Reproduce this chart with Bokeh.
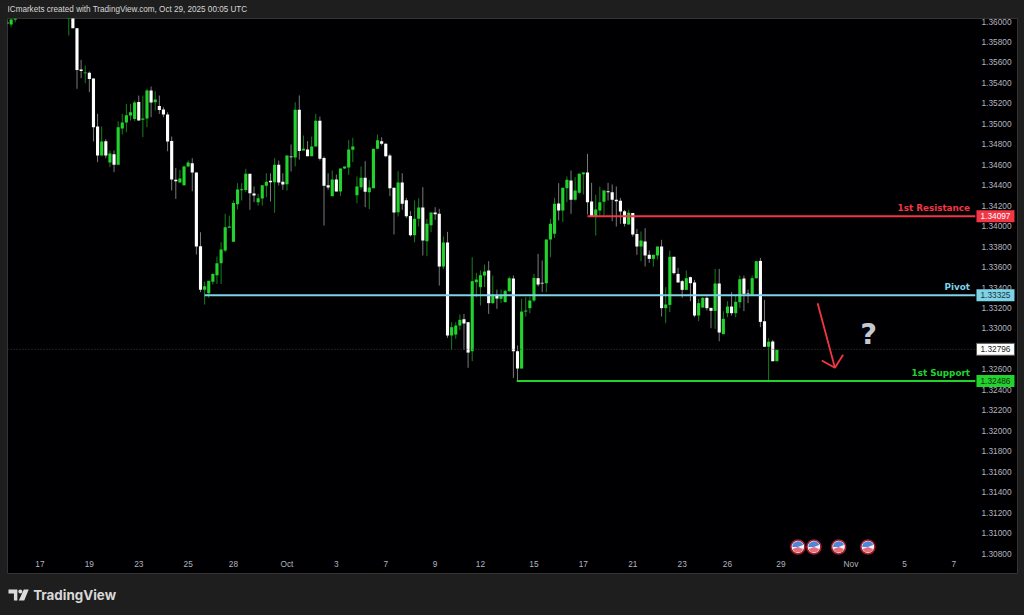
from bokeh.plotting import figure
from bokeh.embed import file_html
from bokeh.layouts import column
from bokeh.resources import INLINE
from bokeh.models import ColumnDataSource, FixedTicker, NumeralTickFormatter
from bokeh.core.properties import value

bar_index = [0, 1, 2] + list(range(15, 188))

opens = [1.35990,1.35970,1.36016,1.36070,1.36120,1.35935,1.35530,1.35495,1.35498,1.35443,1.34973,1.34690,1.34830,1.34621,1.34703,1.34599,1.34954,1.35012,1.35081,1.35048,1.35214,1.35039,1.35052,1.35325,1.35211,1.35175,1.35140,1.35091,1.34833,1.34452,1.34426,1.34400,1.34582,1.34615,1.34524,1.33804,1.33377,1.33344,1.33455,1.33520,1.33637,1.33761,1.33983,1.33846,1.34214,1.34351,1.34354,1.34511,1.34318,1.34234,
1.34270,1.34394,1.34443,1.34429,1.34599,1.34433,1.34410,1.34680,1.34671,1.35137,1.34739,1.34749,1.34684,1.34778,1.35029,1.34667,1.34400,1.34293,1.34456,1.34338,1.34563,1.34573,1.34746,1.34302,1.34381,1.34472,1.34332,1.34371,1.34755,1.34830,1.34804,1.34690,1.34374,1.34136,1.34426,1.34253,1.34100,1.33911,1.34071,1.34182,1.33853,1.34009,1.34133,1.34120,1.33605,1.33840,
1.32931,1.32940,1.33028,1.33090,1.33061,1.32777,1.33452,1.33403,1.33517,1.33566,1.33247,1.33322,1.33289,1.33257,1.33364,1.33488,1.32777,1.32608,1.33165,1.33198,1.33273,1.33491,1.33446,1.33442,1.33869,1.33925,1.34221,1.34153,1.34371,1.34446,1.34257,1.34325,1.34508,1.34524,1.34241,1.34094,1.34153,1.34237,1.34342,1.34332,1.34257,1.34247,1.34146,1.34016,1.34127,1.33924,
1.33800,1.33849,1.33719,1.33680,1.33713,1.33800,1.33198,1.33230,1.33700,1.33533,1.33462,1.33377,1.33501,1.33449,1.33126,1.33204,1.33299,1.33201,1.33172,1.33439,1.32944,1.33149,1.33214,1.33149,1.33256,1.33488,1.33341,1.33328,1.33491,1.33660,1.33071,1.32820,1.32872,1.32680]

highs = [1.36020,1.36040,1.36060,1.36150,1.36140,1.35935,1.35625,1.35570,1.35511,1.35443,1.35097,1.34973,1.34850,1.34739,1.34739,1.35025,1.35097,1.35195,1.35195,1.35227,1.35276,1.35276,1.35342,1.35364,1.35319,1.35276,1.35162,1.35113,1.34876,1.34569,1.34550,1.34592,1.34641,1.34664,1.34524,1.33940,1.33458,1.33465,1.33540,1.33703,1.33843,1.34120,1.34103,1.34250,1.34420,1.34420,1.34560,1.34511,1.34387,1.34315,
1.34400,1.34517,1.34517,1.34664,1.34641,1.34517,1.34690,1.34798,1.35211,1.35277,1.34886,1.34830,1.34876,1.35097,1.35071,1.34680,1.34517,1.34544,1.34504,1.34563,1.34583,1.34843,1.34863,1.34485,1.34583,1.34635,1.34452,1.34755,1.34896,1.34869,1.34810,1.34706,1.34374,1.34537,1.34517,1.34276,1.34146,1.34250,1.34273,1.34381,1.34071,1.34133,1.34185,1.34169,1.33898,1.33944,
1.33061,1.33061,1.33136,1.33142,1.33061,1.33696,1.33543,1.33566,1.33625,1.33657,1.33517,1.33380,1.33380,1.33380,1.33507,1.33517,1.32833,1.33289,1.33305,1.33312,1.33534,1.33729,1.33664,1.33869,1.34071,1.34276,1.34420,1.34374,1.34485,1.34544,1.34479,1.34517,1.34527,1.34706,1.34423,1.34306,1.34387,1.34348,1.34423,1.34407,1.34387,1.34276,1.34159,1.34159,1.34127,1.33973,
1.33947,1.33980,1.33761,1.33719,1.33800,1.33866,1.33403,1.33761,1.33703,1.33592,1.33475,1.33566,1.33507,1.33475,1.33289,1.33305,1.33312,1.33201,1.33582,1.33582,1.33169,1.33266,1.33354,1.33331,1.33517,1.33517,1.33380,1.33517,1.33657,1.33690,1.33279,1.32905,1.32888,1.32791]

lows = [1.35970,1.35944,1.35993,1.35863,1.35935,1.35342,1.35446,1.35397,1.35309,1.34827,1.34625,1.34690,1.34664,1.34576,1.34527,1.34599,1.34895,1.34918,1.35032,1.35025,1.35032,1.34869,1.34967,1.35065,1.35130,1.35097,1.35065,1.34732,1.34348,1.34266,1.34426,1.34397,1.34576,1.34341,1.33722,1.33354,1.33233,1.33299,1.33429,1.33435,1.33435,1.33745,1.33989,1.33846,1.34162,1.34250,1.34331,1.34159,1.34234,1.34201,
1.34201,1.34283,1.34240,1.34130,1.34397,1.34355,1.34348,1.34534,1.34583,1.34651,1.34739,1.34684,1.34684,1.34778,1.34641,1.34006,1.34355,1.34293,1.34338,1.34293,1.34560,1.34501,1.34625,1.34224,1.34355,1.34185,1.34166,1.34371,1.34755,1.34788,1.34674,1.34293,1.33918,1.34094,1.34159,1.34078,1.33898,1.33843,1.33996,1.33713,1.33706,1.33941,1.34061,1.33419,1.33582,1.32908,
1.32791,1.32898,1.32986,1.32791,1.32615,1.32680,1.33305,1.33224,1.33403,1.33142,1.33240,1.33191,1.33247,1.33253,1.33354,1.32517,1.32484,1.32608,1.33116,1.33149,1.33257,1.33410,1.33354,1.33354,1.33696,1.33885,1.34055,1.34039,1.34234,1.34120,1.34250,1.34315,1.34309,1.34113,1.34094,1.33908,1.34104,1.34104,1.34250,1.34048,1.33996,1.34022,1.33996,1.34016,1.33898,1.33719,
1.33657,1.33605,1.33641,1.33605,1.33674,1.33116,1.33051,1.33159,1.33527,1.33449,1.33299,1.33377,1.33266,1.33110,1.33071,1.33201,1.33175,1.33002,1.32996,1.32875,1.32944,1.33110,1.33126,1.33110,1.33201,1.33169,1.33247,1.33328,1.33485,1.33012,1.32820,1.32475,1.32680,1.32680]

closes = [1.35980,1.36019,1.36030,1.36100,1.35935,1.35527,1.35517,1.35501,1.35439,1.34967,1.34690,1.34827,1.34690,1.34710,1.34599,1.34967,1.35012,1.35084,1.35113,1.35208,1.35032,1.35052,1.35325,1.35208,1.35237,1.35136,1.35091,1.34827,1.34455,1.34439,1.34465,1.34582,1.34621,1.34524,1.33800,1.33377,1.33413,1.33465,1.33533,1.33637,1.33771,1.33989,1.33996,1.34227,1.34358,1.34361,1.34511,1.34322,1.34299,1.34273,
1.34400,1.34433,1.34429,1.34599,1.34426,1.34407,1.34690,1.34674,1.35137,1.34733,1.34755,1.34684,1.34778,1.35029,1.34658,1.34394,1.34377,1.34456,1.34338,1.34563,1.34583,1.34749,1.34778,1.34387,1.34472,1.34335,1.34377,1.34755,1.34840,1.34804,1.34684,1.34371,1.34133,1.34426,1.34218,1.34097,1.33911,1.34071,1.34182,1.33859,1.34022,1.34133,1.34117,1.33605,1.33840,1.32931,
1.33012,1.33028,1.33084,1.33048,1.32764,1.33462,1.33478,1.33520,1.33556,1.33247,1.33322,1.33292,1.33322,1.33367,1.33491,1.32777,1.32608,1.33165,1.33175,1.33273,1.33494,1.33429,1.33439,1.33869,1.34022,1.34218,1.34153,1.34374,1.34452,1.34257,1.34348,1.34511,1.34524,1.34234,1.34094,1.34162,1.34234,1.34348,1.34332,1.34257,1.34244,1.34143,1.34022,1.34130,1.33918,1.33801,
1.33859,1.33713,1.33680,1.33719,1.33800,1.33198,1.33234,1.33700,1.33540,1.33449,1.33377,1.33491,1.33442,1.33126,1.33247,1.33299,1.33198,1.33172,1.33439,1.32960,1.33094,1.33214,1.33149,1.33260,1.33481,1.33338,1.33335,1.33491,1.33657,1.33064,1.32820,1.32869,1.32680,1.32791]

n = min(len(bar_index), len(opens), len(highs), len(lows), len(closes))

price_ticks = [round(1.308 + 0.002 * i, 3) for i in range(27)]
time_ticks = [8, 20, 32, 44, 55, 68, 80, 92, 104, 115, 128, 140, 152, 164, 175, 188, 205, 218, 230]
time_labels = ["17", "19", "23", "25", "28", "Oct", "3", "7", "9", "12", "15", "17", "21", "23", "26", "29", "Nov", "5", "7"]

level_names = ["1st Resistance", "Pivot", "1st Support"]
level_prices = [1.34097, 1.33325, 1.32486]
level_starts = [141, 48, 123.8]
level_colors = ["#f23645", "#7fd3e6", "#22d32e"]
level_text_colors = ["#ffffff", "#17333a", "#0a2a0a"]
last_price = 1.32796
event_bars = [192.1, 196.0, 202.0, 209.1]
header_text = "ICmarkets created with TradingView.com, Oct 29, 2025 00:05 UTC"
brand_text = "TradingView"

PAGE = "#1e1e1e"
GREEN = "#22d32e"
WHITE = "#ffffff"
WICK_G = "#14801b"
WICK_W = "#7a7a7a"
AXIS_TEXT = "#b2b5be"
END = 235.2


def strip(height):
    f = figure(width=1024, height=height, x_range=(0, 1024), y_range=(height, 0),
               output_backend="svg", toolbar_location=None, min_border=0,
               background_fill_color=PAGE, border_fill_color=PAGE, outline_line_color=None)
    f.axis.visible = False
    f.grid.visible = False
    return f


head = strip(18)
head.text([0], [9], text=[header_text], text_color="#d6d6d6", text_align="left", text_baseline="middle",
          text_font=value("Liberation Sans"), text_font_size="8.15px")

foot = strip(41)
foot.text([26], [20], text=[brand_text], text_color="#d8d8d8", text_align="left", text_baseline="middle",
          text_font=value("Inter"), text_font_size="13.4px", text_font_style="bold")
foot.patch([1, 10, 10, 6.5, 6.5, 1], [15, 15, 26, 26, 19, 19], fill_color="#dcdcdc", line_color=None)
foot.patch([16.5, 21.5, 17, 11.5], [15, 15, 26, 26], fill_color="#dcdcdc", line_color=None)
foot.scatter([13], [17], size=4, marker="circle", fill_color="#dcdcdc", line_color=None)

p = figure(width=1024, height=556,
           x_range=(0.12, 245.45), y_range=(1.305948, 1.360293),
           y_axis_location="right", output_backend="svg", toolbar_location=None,
           min_border_left=7, min_border_right=7, min_border_top=0, min_border_bottom=0,
           background_fill_color="#000003", border_fill_color=PAGE,
           outline_line_color="#333333", outline_line_width=1)
p.grid.visible = False

ya = p.yaxis[0]
ya.ticker = FixedTicker(ticks=price_ticks)
ya.formatter = NumeralTickFormatter(format="0.00000")
ya.major_tick_line_color = None
ya.minor_tick_line_color = None
ya.axis_line_color = None
ya.major_label_standoff = -42
ya.major_label_text_color = AXIS_TEXT
ya.major_label_text_font = "Liberation Sans"
ya.major_label_text_font_size = "8.3px"

xa = p.xaxis[0]
xa.ticker = FixedTicker(ticks=time_ticks)
xa.major_label_overrides = dict(zip(time_ticks, time_labels))
xa.major_tick_line_color = None
xa.minor_tick_line_color = None
xa.axis_line_color = None
xa.major_label_standoff = -22
xa.major_label_text_color = AXIS_TEXT
xa.major_label_text_font = "Liberation Sans"
xa.major_label_text_font_size = "8.3px"

up = [i for i in range(n) if closes[i] >= opens[i]]
dn = [i for i in range(n) if closes[i] < opens[i]]
for ids, wick, body in ((up, WICK_G, GREEN), (dn, WICK_W, WHITE)):
    src = ColumnDataSource(dict(
        x=[bar_index[i] for i in ids],
        hi=[highs[i] for i in ids],
        lo=[lows[i] for i in ids],
        top=[max(opens[i], closes[i]) for i in ids],
        bot=[min(opens[i], closes[i]) for i in ids],
    ))
    p.segment("x", "lo", "x", "hi", source=src, line_color=wick, line_width=1)
    p.vbar("x", 0.76, "bot", "top", source=src, fill_color=body, line_color=None)

p.segment([0.12], [last_price], [END], [last_price], line_color="#3d3d3d", line_width=1, line_dash="1 2")
p.segment(level_starts, level_prices, [END] * 3, level_prices, line_color=level_colors, line_width=2)
p.text([END - 1.29] * 3, [v + 0.00082 for v in level_prices], text=level_names, text_color=level_colors,
       text_align="right", text_baseline="middle", text_font=value("DejaVu Sans"),
       text_font_size="8.8px", text_font_style="bold")

# arrow and question mark
p.line([196.9, 201.1], [1.33247, 1.32615], line_color="#f23645", line_width=1.8)
p.line([197.9, 201.1, 203.1], [1.32686, 1.32615, 1.32742], line_color="#f23645", line_width=1.8)
p.text([209.3], [1.32941], text=["?"], text_color="#c5c8cf", text_align="center", text_baseline="middle",
       text_font=value("DejaVu Sans"), text_font_size="29px", text_font_style="bold")

# event flags
ev_y = [1.30864] * len(event_bars)
p.scatter(event_bars, ev_y, size=14, fill_color="#f4f4f6", line_color="#a31c2c", line_width=1.6, marker="circle")
p.wedge(event_bars, ev_y, radius=5.6, radius_units="screen", start_angle=0.35, end_angle=3.14,
        fill_color="#4f86d9", line_color=None)
p.wedge(event_bars, ev_y, radius=5.6, radius_units="screen", start_angle=3.5, end_angle=5.9,
        fill_color="#e2707c", line_color=None)

# right-hand tags
tag_x = 240.1
tags = p.rect([tag_x] * 3, level_prices, width=38, height=12, width_units="screen", height_units="screen",
              fill_color=level_colors, line_color=None)
tags.level = "overlay"
last = p.rect([tag_x], [last_price], width=38, height=12, width_units="screen", height_units="screen",
              fill_color="#ffffff", line_color="#555555", line_width=1)
last.level = "overlay"
t1 = p.text([tag_x] * 3, level_prices, text=[f"{v:.5f}" for v in level_prices], text_color=level_text_colors,
            text_align="center", text_baseline="middle", text_font=value("Liberation Sans"), text_font_size="8.3px")
t1.level = "overlay"
t2 = p.text([tag_x], [last_price], text=[f"{last_price:.5f}"], text_color="#222222",
            text_align="center", text_baseline="middle", text_font=value("Liberation Sans"), text_font_size="8.3px")
t2.level = "overlay"

page = column(head, p, foot, spacing=0)
out = file_html(page, INLINE).replace("<head>", "<head><style>html,body{margin:0;background:#1e1e1e}</style>", 1)
open("out.html", "w").write(out)
